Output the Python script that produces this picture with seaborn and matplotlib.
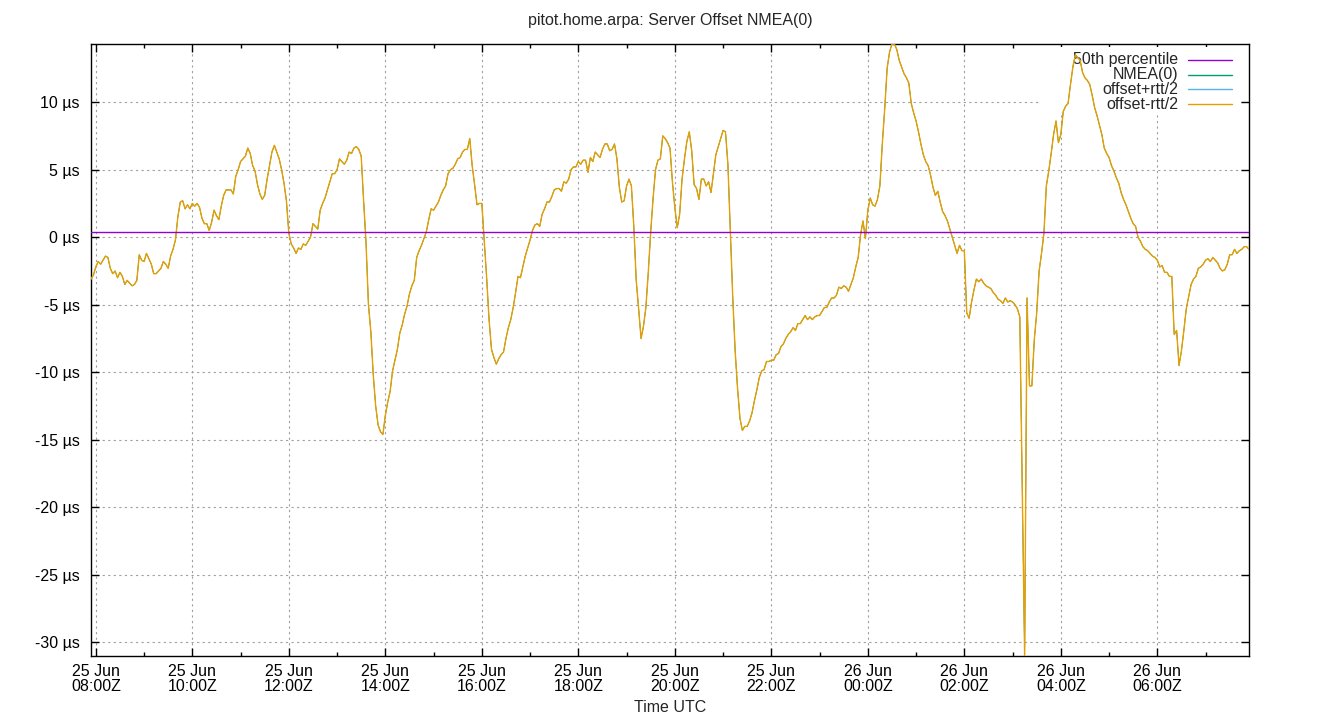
import numpy as np
import pandas as pd
import matplotlib
matplotlib.use("Agg")
import matplotlib.pyplot as plt
import matplotlib.dates as mdates
from matplotlib.patches import Rectangle
import seaborn as sns

title = "pitot.home.arpa: Server Offset NMEA(0)"
start_time = "2025-06-25 07:54"
sample_step = "3min"

# server offset in microseconds, one value every 3 minutes
offset_us = [
    -3.1, -2.8, -2.2, -1.8, -2.0, -1.7, -1.4, -1.5, -2.3, -2.7,
    -2.5, -3.0, -2.6, -2.9, -3.5, -3.2, -3.4, -3.6, -3.5, -3.2,
    -1.3, -1.7, -1.8, -1.2, -1.6, -2.0, -2.7, -2.7, -2.5, -2.3,
    -1.8, -2.0, -2.3, -1.4, -0.9, -0.2, 1.5, 2.6, 2.7, 2.1,
    2.4, 2.1, 2.5, 2.3, 2.5, 2.2, 1.4, 1.0, 1.0, 0.5,
    1.1, 2.0, 1.6, 1.3, 2.3, 3.1, 3.5, 3.5, 3.5, 3.2,
    4.5, 5.0, 5.6, 5.8, 6.0, 6.6, 6.2, 5.3, 4.9, 3.9,
    3.2, 2.8, 3.1, 4.3, 5.3, 6.3, 6.8, 6.3, 5.8, 5.0,
    4.0, 2.7,
    0.3, -0.5, -0.8, -1.2, -0.8, -0.9, -0.5, -0.6, -0.3, 0.0,
    1.0, 0.8, 0.6, 2.0, 2.5, 2.9, 3.5, 4.1, 4.7, 4.7,
    5.0, 5.8, 5.6, 5.4, 5.7, 6.3, 6.2, 6.6, 6.7, 6.5,
    6.0, 2.7, -0.4, -5.0, -7.0, -10.2, -12.5, -13.9, -14.4, -14.6,
    -13.2, -12.2, -11.4, -9.9, -9.1, -8.3, -7.1, -6.5, -5.7, -5.1,
    -4.2, -3.6, -3.2, -1.5, -1.0, -0.6, -0.1, 0.4, 1.3, 2.1,
    2.0, 2.3, 2.6, 3.1, 3.5, 3.8, 4.7, 5.0, 5.1, 5.4,
    5.8, 5.9, 6.3, 6.5, 6.5, 7.3, 5.3, 3.9, 2.4, 2.5,
    2.5, -0.3,
    -3.0, -6.1, -8.3, -8.9, -9.4, -9.0, -8.7, -8.5, -7.5, -6.7,
    -6.1, -5.2, -4.1, -2.9, -3.0, -2.2, -1.4, -0.8, -0.2, 0.5,
    0.9, 1.0, 0.8, 1.7, 2.1, 2.6, 2.6, 3.0, 3.5, 3.6,
    3.6, 3.4, 4.1, 4.0, 4.3, 5.0, 5.2, 5.2, 5.6, 5.4,
    5.7, 5.7, 4.8, 5.9, 5.6, 6.3, 6.1, 5.9, 6.5, 6.9,
    6.9, 6.4, 6.5, 6.9, 5.8, 3.7, 2.6, 2.7, 3.8, 4.3,
    3.8, 0.8, -3.2, -5.3, -7.5, -6.6, -5.2, -2.6, 0.4, 2.9,
    5.0, 5.7, 5.8, 7.5, 7.3, 7.0, 6.6, 4.1, 2.2, 0.7,
    1.7, 4.3, 5.8, 7.1, 7.8, 6.4, 3.9, 3.6, 2.8, 4.3,
    4.3, 3.8, 4.1, 3.3, 4.7, 6.1, 6.7, 7.3, 7.9, 7.8,
    5.4, 0.4, -4.4, -8.4, -11.2, -13.4, -14.3, -14.0, -14.0, -13.6,
    -13.0, -12.1, -11.3, -10.4, -9.9, -9.8, -9.2, -9.2, -9.1, -9.1,
    -8.7, -8.6, -8.1, -7.9, -7.5, -7.2, -7.0, -6.7, -6.9, -6.4,
    -6.4, -6.1, -5.8, -6.1, -5.9, -6.1, -5.9, -5.8, -5.8, -5.5,
    -5.2, -5.2, -4.8, -4.5, -4.5, -4.3, -3.7, -3.8, -3.6, -3.7,
    -4.0, -3.5, -3.0, -2.2, -1.5, 0.2, 1.2, -0.1, 2.0, 2.9,
    2.4,
    2.3, 2.8, 3.8, 6.9, 9.5, 12.5, 13.7, 14.3, 14.3, 13.9,
    13.1, 12.6, 12.1, 11.8, 11.4, 9.9, 9.2, 8.6, 7.8, 6.9,
    6.1, 5.6, 5.3, 4.6, 3.7, 3.1, 3.4, 2.6, 1.9, 1.6,
    1.2, 0.6, 0.0, -0.6, -1.2, -0.6, -1.0, -1.0, -5.6, -6.0,
    -4.8, -3.9, -3.1, -3.3, -3.1, -3.4, -3.6, -3.7, -3.8, -4.1,
    -4.3, -4.6, -4.7, -4.9, -4.5, -4.8, -4.7, -4.8, -5.0, -5.3,
    -5.9, -18.7, -31.0, -4.5, -11.0, -11.0, -7.6, -5.6, -2.5, -1.2,
    0.3, 3.8, 4.9, 6.2, 7.6, 8.6, 7.0, 7.6, 9.3, 9.7,
    9.9,
    11.3, 12.6, 13.5, 13.3, 13.1, 12.2, 11.8, 11.6, 11.3, 10.5,
    9.6, 9.0, 8.3, 7.6, 6.6, 6.2, 5.9, 5.3, 4.9, 4.4,
    4.0, 3.3, 2.8, 2.4, 1.9, 1.4, 1.0, 0.8, 0.0, -0.3,
    -0.7, -0.9, -1.0, -1.2, -1.4, -1.5, -1.7, -2.2, -2.1, -2.6,
    -2.6, -2.9, -2.9, -7.2, -6.9, -9.5, -8.4, -6.9, -5.3, -4.4,
    -3.5, -3.1, -2.9, -2.3, -2.2, -2.0, -1.7, -1.6, -1.8, -1.5,
    -1.7, -1.9, -2.3, -2.5, -2.4, -2.0, -1.3, -1.3, -0.9, -1.2,
    -1.0, -0.9, -0.7, -0.7, -0.9,
]
rtt_us = 0.0          # round trip is ~0 for the refclock, so the three curves overlap
median_us = 0.37      # 50th percentile line

y_ticks = [-30, -25, -20, -15, -10, -5, 0, 5, 10]
y_tick_labels = [f"{v} µs" for v in y_ticks]

series_names = ["50th percentile", "NMEA(0)", "offset+rtt/2", "offset-rtt/2"]
series_colors = ["#9400d3", "#009e73", "#56b4e9", "#e69f00"]
series_widths = [1.0, 0.5, 0.5, 1.0]

times = pd.date_range(start_time, periods=len(offset_us), freq=sample_step)
offset = np.array(offset_us)
df = pd.DataFrame({
    "time": times,
    "NMEA(0)": offset,
    "offset+rtt/2": offset + rtt_us / 2,
    "offset-rtt/2": offset - rtt_us / 2,
})

sns.set_style("ticks")
plt.rcParams["font.family"] = ["Liberation Sans", "DejaVu Sans"]
plt.rcParams["font.size"] = 11.5

fig = plt.figure(figsize=(13.4, 7.2), dpi=100)
ax = fig.add_axes([91 / 1340, 64 / 720, 1158 / 1340, 612 / 720])

ax.set_axisbelow(True)
ax.grid(True, which="major", color="#a0a0a0", linestyle=(0, (2, 3)), linewidth=0.8)

# NMEA(0) and offset+rtt/2 sit under offset-rtt/2 (rtt is zero)
for name, color, lw in zip(series_names[1:], series_colors[1:], series_widths[1:]):
    sns.lineplot(data=df, x="time", y=name, color=color, linewidth=lw,
                 estimator=None, ax=ax, zorder=3)
ax.axhline(median_us, color=series_colors[0], linewidth=series_widths[0], zorder=4)

ax.set_xlim(times[0], times[-1])
ax.set_ylim(offset.min(), offset.max())

ax.xaxis.set_major_locator(mdates.HourLocator(byhour=range(0, 24, 2)))
ax.xaxis.set_minor_locator(mdates.HourLocator())
ax.xaxis.set_major_formatter(mdates.DateFormatter("%d %b\n%H:%MZ"))
ax.set_yticks(y_ticks, y_tick_labels)

ax.tick_params(which="both", direction="in", top=True, right=True, colors="black",
               labelsize=11.5)
ax.tick_params(which="major", length=6, width=1)
ax.tick_params(which="minor", length=3, width=1)
ax.tick_params(axis="x", pad=6)
ax.tick_params(axis="y", pad=8)
for sp in ax.spines.values():
    sp.set_color("black")
    sp.set_linewidth(1)

ax.set_ylabel("")
ax.set_xlabel("Time UTC", fontsize=11.5, labelpad=4)
ax.set_title(title, fontsize=11.5, pad=14)

# key in the gnuplot style: text right aligned, sample line to its right
ax.add_patch(Rectangle((0.82, 0.889), 0.172, 0.106, transform=ax.transAxes,
                       facecolor="white", edgecolor="none", zorder=1))
key_y = [0.974, 0.9495, 0.926, 0.9015]
for name, color, ky in zip(series_names, series_colors, key_y):
    ax.text(0.9387, ky, name, transform=ax.transAxes, ha="right", va="center",
            fontsize=11.5, zorder=2)
    ax.plot([0.947, 0.9853], [ky, ky], transform=ax.transAxes, color=color,
            linewidth=1, zorder=2)

fig.canvas.draw()
for lab in ax.get_xticklabels():
    lab.set_linespacing(1.0)

fig.savefig("out.png", dpi=100)
